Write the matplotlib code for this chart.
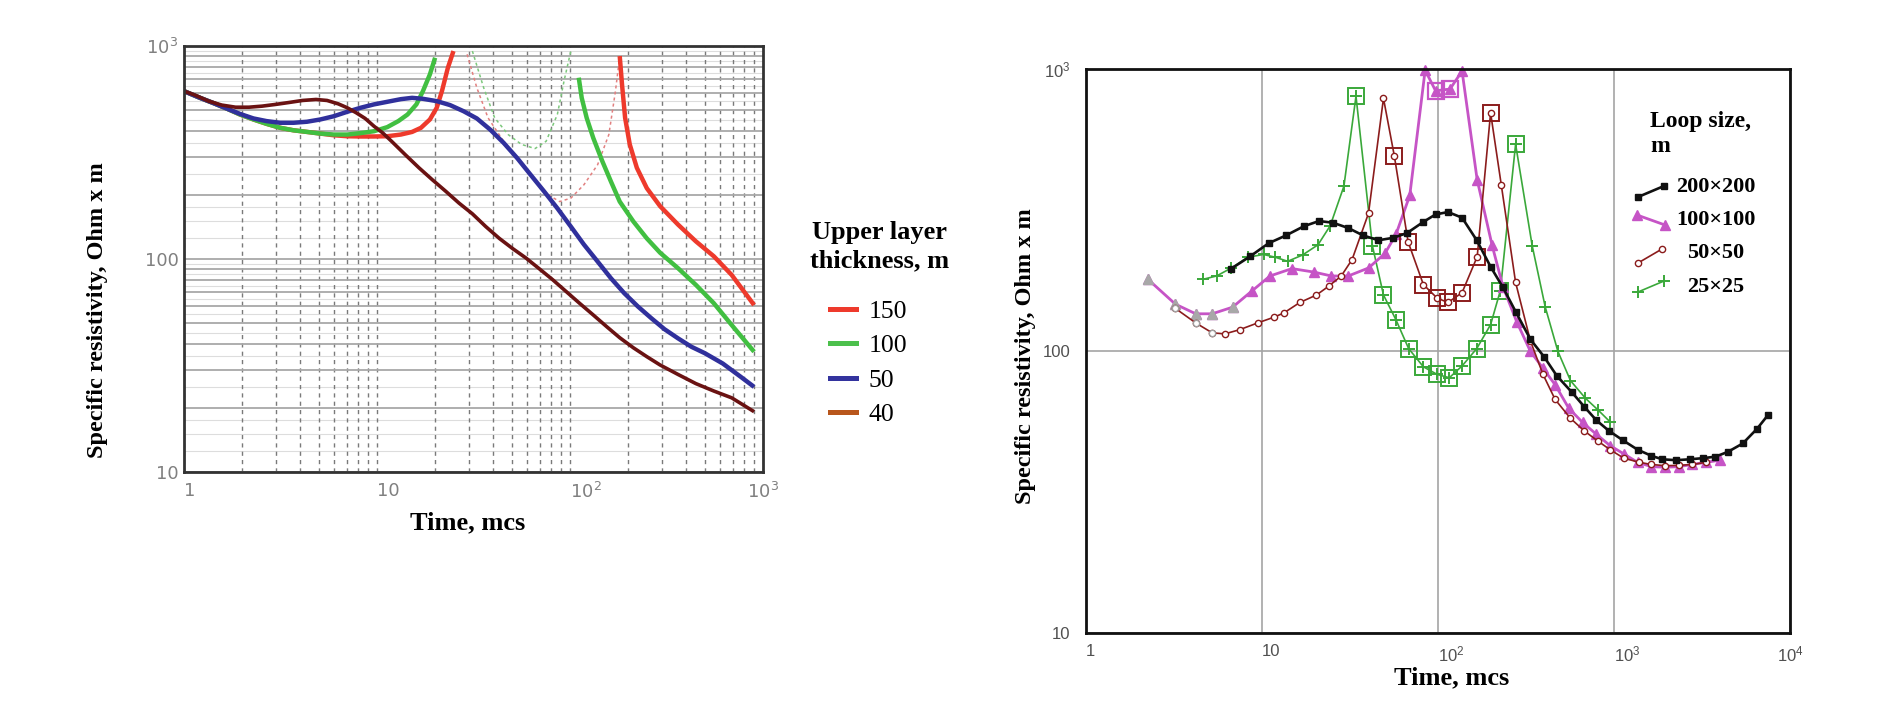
import numpy as np
import matplotlib.pyplot as plt
from matplotlib.lines import Line2D

W, H = 1884, 706

# ---- left chart: upper layer thickness (time in mcs, resistivity in Ohm*m)
t40 = [1.00, 1.14, 1.34, 1.57, 1.85, 2.17, 2.54, 2.99, 3.50, 4.11, 4.83, 5.51, 6.30, 7.01,
       7.80, 8.68, 9.65, 10.7, 11.9, 14.0, 16.5, 19.3, 22.7, 26.6, 31.2, 36.6, 43.0, 50.4,
       59.2, 69.4, 81.5, 95.6, 112, 132, 155, 181, 213, 250, 293, 363, 449, 556, 688, 899]
rho40 = [614, 588, 551, 528, 516, 516, 522, 532, 543, 555, 561, 555, 535, 513,
         486, 457, 420, 391, 357, 309, 268, 236, 208, 183, 163, 142, 125, 112,
         101, 89.9, 79.8, 70.3, 62.0, 54.6, 48.1, 42.7, 38.3, 34.8, 31.8, 28.7, 26.0, 24.0, 22.3, 19.2]

t50 = [1.00, 1.21, 1.41, 1.66, 1.95, 2.29, 2.68, 3.15, 3.69, 4.34, 5.09, 5.97, 7.01, 8.23,
       9.65, 11.3, 13.3, 15.2, 17.3, 20.4, 23.9, 28.1, 32.9, 38.6, 45.3, 53.2, 62.4, 73.3,
       86.0, 101, 118, 139, 163, 191, 225, 264, 309, 363, 426, 500, 619, 766, 899]
rho50 = [614, 571, 541, 509, 480, 457, 444, 436, 436, 441, 452, 468, 491, 513,
         532, 547, 563, 571, 565, 551, 528, 494, 457, 405, 351, 298, 249, 208,
         173, 142, 117, 97.3, 81.2, 69.1, 59.8, 52.7, 46.8, 42.4, 38.7, 36.1, 32.3, 28.0, 25.1]

t100_a = [1.00, 1.21, 1.41, 1.66, 1.95, 2.29, 2.68, 3.15, 3.69, 4.34, 5.09, 5.97, 7.01, 8.23,
          9.65, 11.3, 12.9, 14.4, 16.0, 17.3, 18.8, 20.0]
rho100_a = [614, 571, 541, 509, 477, 452, 431, 413, 402, 395, 388, 384, 384, 390,
            398, 416, 444, 477, 532, 614, 736, 881]
t100_b = [111, 115, 122, 132, 147, 163, 181, 213, 250, 293, 363, 449, 556, 688, 899]
rho100_b = [710, 571, 460, 370, 288, 231, 186, 150, 125, 107, 90.5, 75.6, 62.0, 49.0, 36.7]

t150_a = [1.00, 1.21, 1.41, 1.66, 1.95, 2.29, 2.68, 3.15, 3.69, 4.34, 5.09, 5.97, 7.01, 8.23,
          9.65, 11.3, 13.3, 15.2, 16.9, 18.8, 20.4, 21.7, 23.3, 24.9]
rho150_a = [614, 571, 541, 509, 477, 452, 431, 413, 402, 395, 388, 381, 377, 376,
            376, 377, 384, 395, 413, 452, 513, 614, 791, 947]
t150_b = [181, 186, 193, 204, 222, 250, 293, 363, 449, 556, 688, 899]
rho150_b = [897, 660, 460, 345, 268, 215, 177, 145, 121, 103, 84.2, 60.8]

# faint dotted traces between the branches
t100_dot = [31.2, 35.7, 40.7, 47.8, 56.1, 65.9, 75.2, 86.0, 93.1, 101]
rho100_dot = [947, 637, 460, 384, 345, 330, 357, 477, 684, 947]
t150_dot = [29.3, 32.9, 37.6, 45.3, 54.6, 65.9, 77.3, 88.3, 101, 118, 139, 159, 172, 181]
rho150_dot = [914, 637, 460, 357, 288, 231, 200, 186, 193, 223, 277, 384, 614, 897]

# ---- right chart: loop size
t_200 = np.array([6.7, 8.6, 10.9, 13.7, 17.3, 21.1, 25.3, 30.9, 37.5, 45.9, 55.7, 66.7, 82.6,
                  96.9, 114, 137, 166, 199, 234, 276, 335, 401, 473, 574, 677, 794, 936, 1120,
                  1360, 1630, 1880, 2250, 2690, 3220, 3770, 4440, 5390, 6500, 7500])
r_200 = np.array([196, 217, 241, 257, 277, 289, 285, 273, 257, 247, 252, 262, 287,
                  305, 311, 297, 247, 199, 168, 138, 110, 95.3, 81.7, 71.6, 63.5, 56.8, 52.1, 48.3,
                  44.7, 42.5, 41.3, 41.0, 41.3, 41.7, 42.2, 43.9, 47.0, 53.0, 59.3])

t_100 = np.array([2.25, 3.22, 4.2, 5.21, 6.8, 8.8, 11.1, 14.8, 19.7, 24.8, 30.9, 40.3, 50.0,
                  57.7, 69.1, 84.5, 96.9, 117, 137, 167, 203, 234, 280, 335, 395, 463, 554,
                  663, 793, 949, 1135, 1360, 1630, 1950, 2330, 2790, 3340, 3990])
r_100 = np.array([179.5, 146.6, 135.5, 135.5, 143, 163.6, 184.5, 196, 190.5, 184.5, 184.5, 197, 222,
                  259, 356, 990, 837, 849, 983, 404, 237, 169, 127, 99.7, 86.9, 75.9, 62.6,
                  55.8, 50.7, 46.2, 43.2, 40.3, 38.9, 38.7, 38.9, 39.6, 40.3, 41.0])

t_50 = np.array([3.22, 4.2, 5.21, 6.15, 7.46, 9.46, 11.7, 13.3, 16.4, 20.4, 24.0, 28.2, 32.5,
                 40.3, 49.0, 56.5, 67.6, 82.6, 98.9, 114, 137, 167, 199, 229, 276, 335, 395,
                 463, 566, 677, 811, 949, 1135, 1390, 1630, 1950, 2330, 2790, 3340])
r_50 = np.array([141.6, 125.8, 116, 115, 119, 125.8, 131.8, 136.4, 148.6, 158, 170, 184.5, 211,
                 308, 787, 491, 244, 172, 154, 148.6, 161, 216, 699, 387, 175, 108.6, 82.6,
                 67.3, 57.7, 52.1, 47.9, 44.7, 41.7, 40.3, 39.6, 39.2, 39.3, 39.6, 40.3])

t_25 = np.array([4.61, 5.52, 6.7, 8.3, 10.2, 11.9, 14.0, 17.0, 20.8, 24.4, 29.2, 34.2, 42.4,
                 49.0, 57.7, 68.1, 82.6, 98.9, 116, 137, 166, 199, 226, 276, 343, 407, 480,
                 566, 688, 811, 949])
r_25 = np.array([179.5, 184.5, 197, 215, 220, 215, 208, 219, 238, 278, 384, 801, 236,
                 158, 129, 102, 87.9, 82.6, 80.4, 88.5, 102, 124, 163.6, 541, 236, 143, 99.7,
                 78.5, 68, 61.8, 56.1])

# points drawn with an extra square frame
box_100 = slice(16, 18)
box_50 = slice(15, 23)
box_25 = slice(11, 24)

serif = 'Liberation Serif'
tick_right = ['Liberation Sans Narrow', 'Liberation Sans']


def fpos(x, y):
    return x / W, 1 - y / H


fig = plt.figure(figsize=(W / 100, H / 100), dpi=100)
ax1 = fig.add_axes([184 / W, 1 - 472 / H, 579 / W, 426 / H])
ax2 = fig.add_axes([1086 / W, 1 - 633 / H, 704 / W, 564 / H])

# ---------------- left chart
ax1.set_xscale('log')
ax1.set_yscale('log')
ax1.set_xlim(1, 1000)
ax1.set_ylim(10, 1000)
for d in [10, 100]:
    for v in d * np.array([1.25, 1.5, 1.75, 2.5, 3.5, 4.5, 5.5, 6.5, 7.5, 8.5, 9.5]):
        ax1.axhline(v, color='#dddddd', lw=0.8, zorder=0)
ax1.grid(which='both', axis='y', color='#a8a8a8', lw=1.3, zorder=0)
ax1.grid(which='both', axis='x', color='#7a7a7a', lw=1.0, ls=(0, (3, 3)), zorder=0)
ax1.set_axisbelow(True)

ax1.plot(t150_dot, rho150_dot, color='#e28080', lw=1.1, ls=(0, (2, 2)))
ax1.plot(t100_dot, rho100_dot, color='#7cc87c', lw=1.1, ls=(0, (2, 2)))
ax1.plot(t150_a, rho150_a, color='#ee3a2c', lw=3.2, solid_capstyle='butt')
ax1.plot(t150_b, rho150_b, color='#ee3a2c', lw=3.2, solid_capstyle='butt')
ax1.plot(t100_a, rho100_a, color='#41bf41', lw=3.2, solid_capstyle='butt')
ax1.plot(t100_b, rho100_b, color='#41bf41', lw=3.2, solid_capstyle='butt')
ax1.plot(t50, rho50, color='#30309c', lw=3.2, solid_capstyle='butt')
ax1.plot(t40, rho40, color='#6a1212', lw=2.6, solid_capstyle='butt')

ax1.set_xticks([1, 10, 100, 1000])
ax1.set_xticklabels(['1', '10', r'$\mathregular{10^{2}}$', r'$\mathregular{10^{3}}$'])
ax1.set_yticks([10, 100, 1000])
ax1.set_yticklabels(['10', '100', r'$\mathregular{10^{3}}$'])
ax1.xaxis.set_minor_formatter(plt.NullFormatter())
ax1.yaxis.set_minor_formatter(plt.NullFormatter())
ax1.tick_params(which='both', length=0, labelsize=13, labelcolor='#808080')
ax1.tick_params(axis='x', pad=7)
ax1.tick_params(axis='y', pad=4)
for lab in ax1.get_xticklabels()[:-1]:
    lab.set_ha('left')
for s in ax1.spines.values():
    s.set_color('#333333')
    s.set_linewidth(2)

fig.text(*fpos(98, 310), 'Specific resistivity, Ohm x m', rotation=90, ha='center', va='center',
         family=serif, weight='bold', size=17.5)
fig.text(*fpos(468, 523), 'Time, mcs', ha='center', va='center', family=serif, weight='bold', size=19)
fig.text(*fpos(880, 239), 'Upper layer', ha='center', va='baseline', family=serif,
         weight='bold', size=19)
fig.text(*fpos(880, 267), 'thickness, m', ha='center', va='baseline', family=serif,
         weight='bold', size=19)
handles = [Line2D([], [], color=c, lw=3.6) for c in ['#ee3a2c', '#4cc04c', '#33339e', '#b8561c']]
fig.legend(handles, ['150', '100', '50', '40'], loc='upper left', bbox_to_anchor=fpos(830, 300),
           frameon=False, prop={'family': serif, 'size': 18.5}, handlelength=1.0,
           handletextpad=0.5, labelspacing=0.44, borderpad=0, borderaxespad=0)

# ---------------- right chart
ax2.set_xscale('log')
ax2.set_yscale('log')
ax2.set_xlim(1, 10000)
ax2.set_ylim(10, 1000)
ax2.grid(which='major', color='#a4a4a4', lw=1.2, zorder=0)
ax2.set_axisbelow(True)

ax2.plot(t_25, r_25, color='#3aa83a', lw=1.2, marker='+', ms=9, mew=1.4, clip_on=False)
ax2.plot(t_25[box_25], r_25[box_25], ls='none', marker='s', ms=12, mfc='none', mec='#3aa83a',
         mew=1.4, clip_on=False)
ax2.plot(t_100, r_100, color='#c654c6', lw=2.0, marker='^', ms=7, clip_on=False)
ax2.plot(t_100[:5], r_100[:5], ls='none', marker='^', ms=7, color='#a8a8a8')
ax2.plot(t_100[box_100], r_100[box_100], ls='none', marker='s', ms=11, mfc='none', mec='#c654c6',
         mew=1.6, clip_on=False)
ax2.plot(t_50, r_50, color='#8b1c1c', lw=1.2, marker='o', ms=4.5, mfc='white', mew=1.0,
         clip_on=False)
ax2.plot(t_50[:3], r_50[:3], ls='none', marker='o', ms=4.5, mfc='white', mec='#a0a0a0', mew=1.0)
ax2.plot(t_50[box_50], r_50[box_50], ls='none', marker='s', ms=12, mfc='none', mec='#8b1c1c',
         mew=1.4, clip_on=False)
ax2.plot(t_200, r_200, color='#111111', lw=1.9, marker='s', ms=5, clip_on=False)

ax2.set_xticks([1, 10, 100, 1000, 10000])
ax2.set_xticklabels(['1', '10', r'$\mathregular{10^{2}}$', r'$\mathregular{10^{3}}$',
                     r'$\mathregular{10^{4}}$'])
ax2.set_yticks([10, 100, 1000])
ax2.set_yticklabels(['10', '100', r'$\mathregular{10^{3}}$'])
ax2.minorticks_off()
ax2.tick_params(which='both', length=0, labelsize=12, labelcolor='#505050')
ax2.tick_params(axis='x', pad=8)
ax2.tick_params(axis='y', pad=11)
for lab in ax2.get_xticklabels() + ax2.get_yticklabels():
    lab.set_family(tick_right)
for lab in ax2.get_xticklabels()[:-1]:
    lab.set_ha('left')
for s in ax2.spines.values():
    s.set_color('#111111')
    s.set_linewidth(2)

fig.text(*fpos(1026, 356), 'Specific resistivity, Ohm x m', rotation=90, ha='center', va='center',
         family=serif, weight='bold', size=17.5)
fig.text(*fpos(1452, 678), 'Time, mcs', ha='center', va='center', family=serif, weight='bold', size=19)
fig.text(*fpos(1650, 127), 'Loop size,', ha='left', va='baseline', family=serif, weight='bold', size=17)
fig.text(*fpos(1650, 152), 'm', ha='left', va='baseline', family=serif, weight='bold', size=17)

# legend of the right chart, slanted sample segments like the original
samples = [
    ('200\u00d7200', 187, (1638, 197), (1664, 186), dict(color='#111111', lw=1.9, marker='s', ms=5)),
    ('100\u00d7100', 220, (1637, 215), (1665, 225), dict(color='#c654c6', lw=2.0, marker='^', ms=7)),
    ('50\u00d750', 253, (1638, 263), (1662, 249), dict(color='#8b1c1c', lw=1.2, marker='o', ms=4.5,
                                                    mfc='white')),
    ('25\u00d725', 287, (1638, 292), (1664, 281), dict(color='#3aa83a', lw=1.2, marker='+', ms=9,
                                                    mew=1.4)),
]
for label, ty, p0, p1, style in samples:
    a, b = fpos(*p0), fpos(*p1)
    fig.add_artist(Line2D([a[0], b[0]], [a[1], b[1]], transform=fig.transFigure, **style))
    fig.text(*fpos(1716, ty), label, ha='center', va='center', family=serif, weight='bold', size=16)

fig.savefig('out.png', dpi=100)
